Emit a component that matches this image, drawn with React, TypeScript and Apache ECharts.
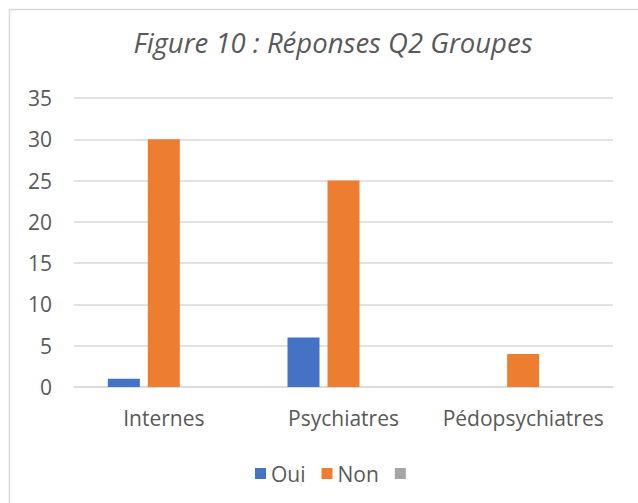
import React, { useEffect, useRef } from "react";
import * as echarts from "echarts";

const categories = ["Internes", "Psychiatres", "Pédopsychiatres"];
const oui = [1, 6, 0];
const non = [30, 25, 4];
const third = [0, 0, 0];
const yTicks = { min: 0, max: 35, interval: 5 };

const FONT = "'Open Sans', sans-serif";
const TEXT = "#595959";

export default function App() {
  const ref = useRef<HTMLDivElement>(null);
  useEffect(() => {
    if (!ref.current) return;
    const chart = echarts.init(ref.current, undefined, { renderer: "svg" });
    chart.setOption({
      animation: false,
      backgroundColor: "#ffffff",
      title: {
        text: "Figure 10 : Réponses Q2 Groupes",
        left: 328,
        textAlign: "center",
        top: 24,
        textStyle: {
          fontFamily: FONT,
          fontStyle: "italic",
          fontWeight: "normal",
          fontSize: 27.5,
          color: TEXT,
        },
      },
      graphic: [
        {
          type: "rect",
          shape: { x: 9.5, y: 9.5, width: 720, height: 600 },
          style: { fill: "none", stroke: "#d9d9d9", lineWidth: 1.5 },
          silent: true,
          z: -1,
        },
      ],
      legend: {
        left: 250,
        top: 458,
        itemWidth: 11,
        itemHeight: 11,
        itemGap: 16,
        icon: "rect",
        textStyle: { fontFamily: FONT, fontSize: 21, color: TEXT },
        data: ["Oui", "Non", " "],
      },
      grid: { left: 74, right: 25, top: 98, bottom: 116 },
      xAxis: {
        type: "category",
        data: categories,
        axisLine: { lineStyle: { color: "#d9d9d9", width: 1.5 } },
        axisTick: { show: false },
        axisLabel: { fontFamily: FONT, fontSize: 21, color: TEXT, margin: 20, interval: 0 },
      },
      yAxis: {
        type: "value",
        min: yTicks.min,
        max: yTicks.max,
        interval: yTicks.interval,
        axisLine: { show: false },
        axisTick: { show: false },
        splitLine: { lineStyle: { color: "#d9d9d9", width: 1.5 } },
        axisLabel: { fontFamily: FONT, fontSize: 21, color: TEXT, margin: 22 },
      },
      series: [
        { name: "Oui", type: "bar", data: oui, barWidth: 32, barGap: "25%", itemStyle: { color: "#4472C4" } },
        { name: "Non", type: "bar", data: non, barWidth: 32, barGap: "25%", itemStyle: { color: "#ED7D31" } },
        { name: " ", type: "bar", data: third, barWidth: 32, barGap: "25%", itemStyle: { color: "#A5A5A5" } },
      ],
    });
    return () => chart.dispose();
  }, []);
  return (
    <div style={{ position: "fixed", left: 0, top: 0, width: 638, height: 503, background: "#fff" }}>
      <div ref={ref} style={{ width: 638, height: 503 }} />
    </div>
  );
}
